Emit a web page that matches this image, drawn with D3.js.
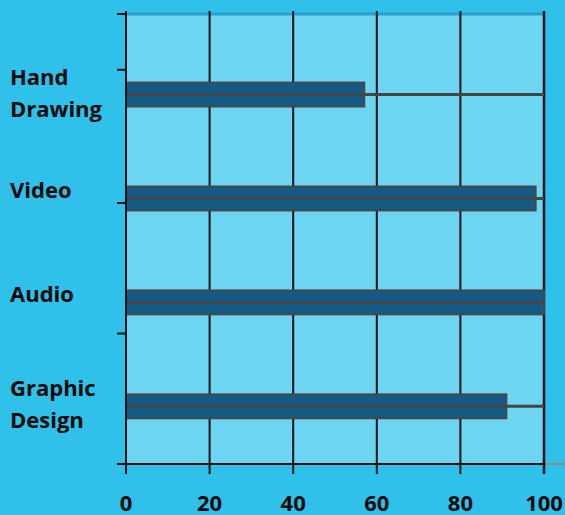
<!DOCTYPE html>
<html>
<head>
<meta charset="utf-8">
<script src="https://cdn.jsdelivr.net/npm/d3@7"></script>
<style>
  body { margin: 0; background: #2fc1ea; }
  svg { display: block; }
</style>
</head>
<body>
<svg width="565" height="515"></svg>
<script>
// data
var categories = ["Hand Drawing", "Video", "Audio", "Graphic Design"];
var labelLines = [["Hand", "Drawing"], ["Video"], ["Audio"], ["Graphic", "Design"]];
var values = [57, 98, 100, 91];
var xTicks = [0, 20, 40, 60, 80, 100];
// left axis ticks, as a fraction of the plot height (from bottom)
var yTicks = [0, 0.29, 0.58, 0.876, 1];

(function() {
	var svg = d3.select("svg");
	var plotLeft = 126, plotRight = 544, plotTop = 14, plotBottom = 464;

	var x = d3.scaleLinear().domain([0, 100]).range([plotLeft, plotRight]);
	var yFrac = d3.scaleLinear().domain([0, 1]).range([plotBottom, plotTop]);
	var y = d3.scaleBand().domain(categories).range([plotTop, plotBottom])
		.paddingInner(0.77).paddingOuter(0.55).align(0.6);

	// plot background
	svg.append("rect")
		.attr("x", plotLeft).attr("y", plotTop)
		.attr("width", plotRight - plotLeft).attr("height", plotBottom - plotTop)
		.style("fill", "#6cd5f2");

	// top border line
	svg.append("line")
		.attr("x1", plotLeft).attr("x2", plotRight)
		.attr("y1", plotTop).attr("y2", plotTop)
		.style("stroke", "#2a9fc9").style("stroke-width", 3);

	// right continuation of the bottom line
	svg.append("line")
		.attr("x1", plotRight).attr("x2", 565)
		.attr("y1", plotBottom).attr("y2", plotBottom)
		.style("stroke", "#8a8a8a").style("stroke-width", 2);

	// vertical grid lines + bottom ticks
	svg.selectAll(".grid").data(xTicks).enter().append("line")
		.attr("class", "grid")
		.attr("x1", function(d) { return x(d); }).attr("x2", function(d) { return x(d); })
		.attr("y1", plotTop - 3).attr("y2", plotBottom + 10)
		.style("stroke", "#111")
		.style("stroke-width", function(d) { return d === 100 ? 2.5 : 2; });

	// bottom axis line
	svg.append("line")
		.attr("x1", plotLeft - 9).attr("x2", plotRight)
		.attr("y1", plotBottom).attr("y2", plotBottom)
		.style("stroke", "#111").style("stroke-width", 2);

	// left axis ticks
	svg.selectAll(".ytick").data(yTicks).enter().append("line")
		.attr("class", "ytick")
		.attr("x1", plotLeft - 9).attr("x2", plotLeft)
		.attr("y1", function(d) { return yFrac(d); }).attr("y2", function(d) { return yFrac(d); })
		.style("stroke", "#111").style("stroke-width", 2);

	// bars
	var bars = svg.selectAll(".bar").data(categories).enter().append("g").attr("class", "bar");
	bars.append("rect")
		.attr("x", x(0))
		.attr("y", function(d) { return y(d); })
		.attr("width", function(d, i) { return x(values[i]) - x(0); })
		.attr("height", y.bandwidth())
		.style("fill", "#135a85")
		.style("stroke", "#474747")
		.style("stroke-width", 2);
	bars.append("line")
		.attr("x1", x(0)).attr("x2", x(100))
		.attr("y1", function(d) { return y(d) + y.bandwidth() / 2; })
		.attr("y2", function(d) { return y(d) + y.bandwidth() / 2; })
		.style("stroke", "#454545").style("stroke-width", 3);

	// left axis line
	svg.append("line")
		.attr("x1", plotLeft).attr("x2", plotLeft)
		.attr("y1", plotTop - 3).attr("y2", plotBottom + 10)
		.style("stroke", "#111").style("stroke-width", 2);

	// category labels
	var font = "'Open Sans', Lato, sans-serif";
	categories.forEach(function(c, i) {
		var lines = labelLines[i];
		var cy = y(c) + y.bandwidth() / 2;
		var first = lines.length > 1 ? cy - 10 : cy;
		lines.forEach(function(l, j) {
			svg.append("text")
				.attr("x", 10)
				.attr("y", first + j * 32)
				.style("font-family", font).style("font-weight", "bold")
				.style("font-size", "22px").style("fill", "#0a0a0a")
				.text(l);
		});
	});

	// x tick labels
	svg.selectAll(".xlabel").data(xTicks).enter().append("text")
		.attr("class", "xlabel")
		.attr("x", function(d) { return x(d); })
		.attr("y", 511)
		.attr("text-anchor", "middle")
		.style("font-family", font).style("font-weight", "bold")
		.style("font-size", "22px").style("fill", "#0a0a0a")
		.text(function(d) { return d; });
})();
</script>
</body>
</html>
